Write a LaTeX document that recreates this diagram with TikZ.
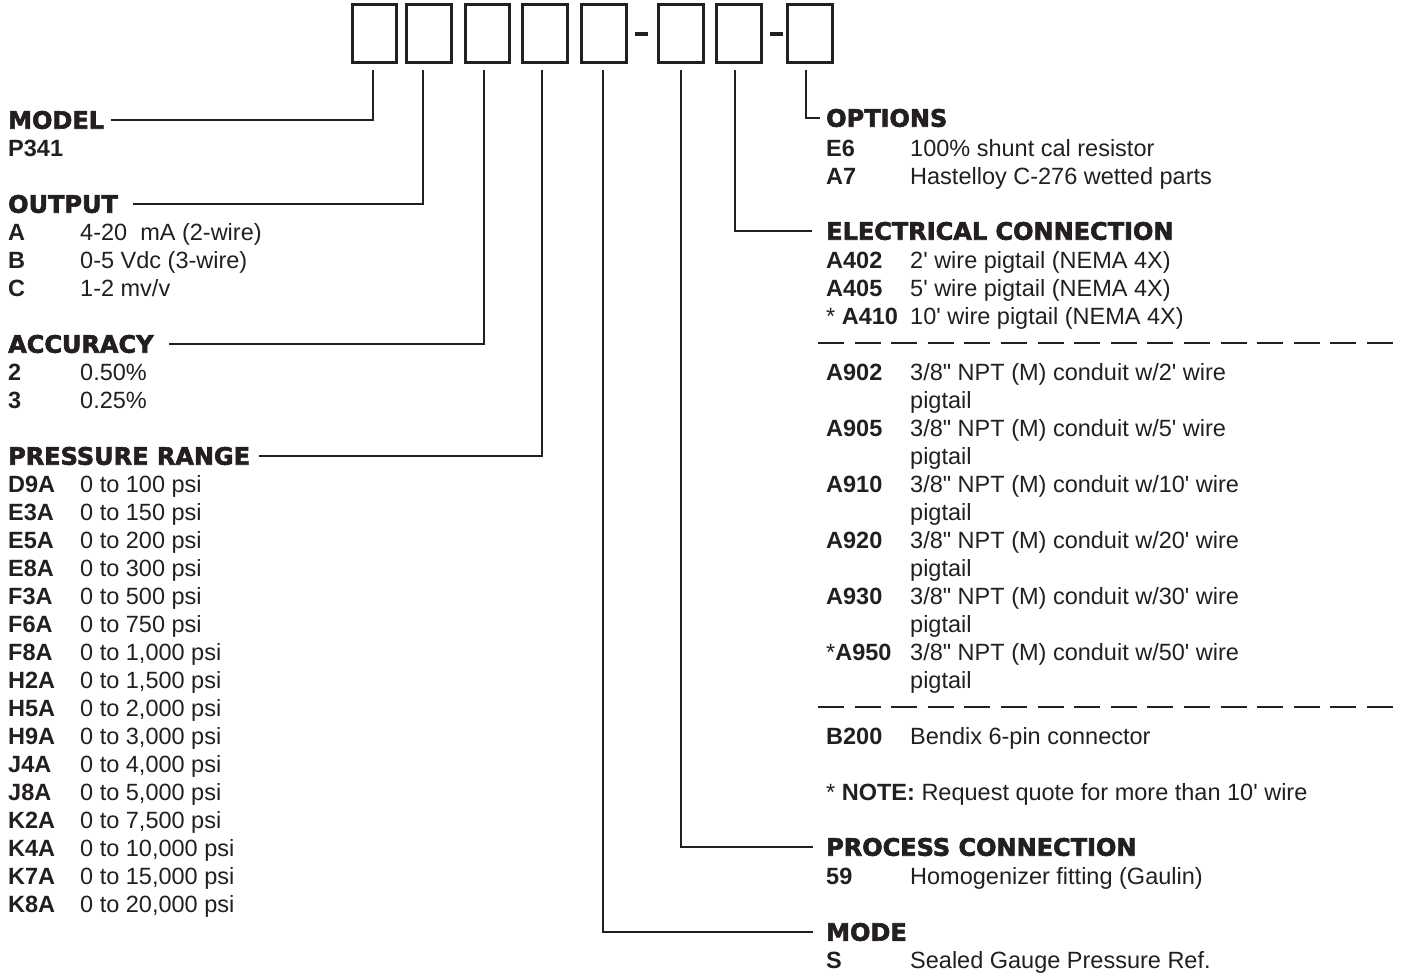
\documentclass[tikz,border=0pt]{standalone}
\usepackage{fontspec}
\newfontfamily\bodyfont{Liberation Sans}
\newfontfamily\hdfont{DejaVu Sans}[UprightFont={* Bold},FakeBold=2.5]
\definecolor{ink}{HTML}{231F20}
\tikzset{
  hd/.style={anchor=west, inner sep=0pt, font=\hdfont\fontsize{24}{28}\selectfont, text=ink},
  code/.style={anchor=base west, inner sep=0pt, font=\bodyfont\bfseries\fontsize{23.5}{28}\selectfont, text=ink},
  desc/.style={anchor=base west, inner sep=0pt, font=\bodyfont\fontsize{23.5}{28}\selectfont, text=ink},
  digit/.style={draw=ink, line width=3pt, minimum width=44.5pt, minimum height=58pt, inner sep=0pt},
  conn/.style={draw=ink, line width=2pt},
  sepline/.style={draw=ink, line width=2.4pt, dash pattern=on 26pt off 10.6pt},
  hyph/.style={draw=ink, line width=4pt},
}
\begin{document}
\begin{tikzpicture}[x=1pt,y=-1pt]
\path[use as bounding box] (0,0) rectangle (1413,972);

% code boxes
\node[digit] (b1) at (374.5,33.5) {};
\node[digit] (b2) at (429,33.5) {};
\node[digit] (b3) at (487.5,33.5) {};
\node[digit] (b4) at (545,33.5) {};
\node[digit] (b5) at (604,33.5) {};
\node[digit] (b6) at (681,33.5) {};
\node[digit] (b7) at (739,33.5) {};
\node[digit] (b8) at (810,33.5) {};
\draw[hyph] ([xshift=7pt]b5.east) -- ([xshift=20pt]b5.east);
\draw[hyph] ([xshift=7pt]b7.east) -- ([xshift=20pt]b7.east);

% connector tops
\coordinate (c1) at (373,70);
\coordinate (c2) at (423,70);
\coordinate (c3) at (484,70);
\coordinate (c4) at (542,70);
\coordinate (c5) at (603,70);
\coordinate (c6) at (681,70);
\coordinate (c7) at (735,70);
\coordinate (c8) at (806,70);

% left column
\node[hd] (model) at (8,120) {MODEL};
\node[code] (p341) at (8,156.5) {P341};

\node[hd] (output) at (8,204) {OUTPUT};
\node[code] (oa) at (8,240.5) {A};
\node[desc] (oad) at (80,240.5) {4-20\ \ mA (2-wire)};
\node[code] (ob) at (8,268.5) {B};
\node[desc] (obd) at (80,268.5) {0-5 Vdc (3-wire)};
\node[code] (oc) at (8,296.5) {C};
\node[desc] (ocd) at (80,296.5) {1-2 mv/v};

\node[hd] (acc) at (8,344) {ACCURACY};
\node[code] (a2) at (8,380.5) {2};
\node[desc] (a2d) at (80,380.5) {0.50\%};
\node[code] (a3) at (8,408.5) {3};
\node[desc] (a3d) at (80,408.5) {0.25\%};

\node[hd] (pres) at (8,456) {PRESSURE RANGE};
\foreach \c/\d [count=\i from 0] in {D9A/{0 to 100 psi}, E3A/{0 to 150 psi}, E5A/{0 to 200 psi}, E8A/{0 to 300 psi}, F3A/{0 to 500 psi}, F6A/{0 to 750 psi}, F8A/{0 to 1,000 psi}, H2A/{0 to 1,500 psi}, H5A/{0 to 2,000 psi}, H9A/{0 to 3,000 psi}, J4A/{0 to 4,000 psi}, J8A/{0 to 5,000 psi}, K2A/{0 to 7,500 psi}, K4A/{0 to 10,000 psi}, K7A/{0 to 15,000 psi}, K8A/{0 to 20,000 psi}} {
  \node[code] (pc\i) at (8,{492.5+28*\i}) {\c};
  \node[desc] (pd\i) at (80,{492.5+28*\i}) {\d};
}

% right column
\node[hd] (opt) at (826,118) {OPTIONS};
\node[code] (e6) at (826,156.5) {E6};
\node[desc] (e6d) at (910,156.5) {100\% shunt cal resistor};
\node[code] (a7) at (826,184.5) {A7};
\node[desc] (a7d) at (910,184.5) {Hastelloy C-276 wetted parts};

\node[hd] (elec) at (826,231) {ELECTRICAL CONNECTION};
\node[code] (e402) at (826,268.5) {A402};
\node[desc] (e402d) at (910,268.5) {2' wire pigtail (NEMA 4X)};
\node[code] (e405) at (826,296.5) {A405};
\node[desc] (e405d) at (910,296.5) {5' wire pigtail (NEMA 4X)};
\node[code] (e410) at (826,324.5) {{\mdseries*} A410};
\node[desc] (e410d) at (910,324.5) {10' wire pigtail (NEMA 4X)};
\coordinate (s1a) at (818,343);
\coordinate (s1b) at (1397,343);
\draw[sepline] (s1a) -- (s1b);

\foreach \c/\w [count=\i from 0] in {A902/2, A905/5, A910/10, A920/20, A930/30, {{\mdseries*}A950}/50} {
  \node[code] (ec\i) at (826,{380.5+56*\i}) {\c};
  \node[desc] (ed\i) at (910,{380.5+56*\i}) {3/8" NPT (M) conduit w/\w' wire};
  \node[desc] (ep\i) at (910,{408.5+56*\i}) {pigtail};
}
\coordinate (s2a) at (818,707);
\coordinate (s2b) at (1397,707);
\draw[sepline] (s2a) -- (s2b);
\node[code] (b200) at (826,744.5) {B200};
\node[desc] (b200d) at (910,744.5) {Bendix 6-pin connector};
\node[desc] (note) at (826,800.5) {* \textbf{NOTE:} Request quote for more than 10' wire};

\node[hd] (proc) at (826,847) {PROCESS CONNECTION};
\node[code] (p59) at (826,884.5) {59};
\node[desc] (p59d) at (910,884.5) {Homogenizer fitting (Gaulin)};

\node[hd] (mode) at (826,932) {MODE};
\node[code] (ms) at (826,968.5) {S};
\node[desc] (msd) at (910,968.5) {Sealed Gauge Pressure Ref.};

% connectors
\draw[conn] (c1) |- ([xshift=7pt]model.east);
\draw[conn] (c2) |- ([xshift=15pt]output.east);
\draw[conn] (c3) |- ([xshift=15pt]acc.east);
\draw[conn] (c4) |- ([xshift=9pt]pres.east);
\draw[conn] (c5) |- ([xshift=-13pt]mode.west);
\draw[conn] (c6) |- ([xshift=-13pt]proc.west);
\draw[conn] (c7) |- ([xshift=-14pt]elec.west);
\draw[draw=ink, line width=1.4pt] (c8) |- ([xshift=-6pt]opt.west);
\end{tikzpicture}
\end{document}
